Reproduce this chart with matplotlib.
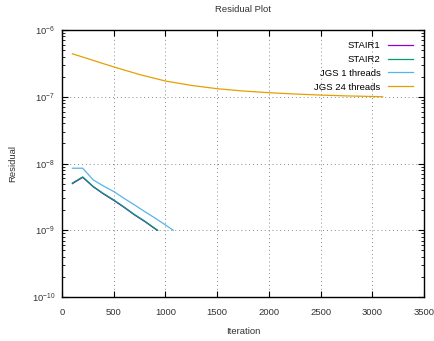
import matplotlib
matplotlib.use("Agg")
import matplotlib.pyplot as plt
from matplotlib.ticker import LogLocator, NullFormatter, FixedLocator

plt.rcParams['font.family'] = ['Liberation Sans', 'DejaVu Sans']

# STAIR1 / STAIR2 (nearly identical)
stair1_it = [100, 200, 300, 400, 500, 600, 700, 800, 900, 920]
stair1_res = [5.0e-9, 6.2e-9, 4.5e-9, 3.5e-9, 2.8e-9, 2.2e-9, 1.7e-9, 1.35e-9, 1.05e-9, 1.0e-9]
stair2_it = [100, 200, 300, 400, 500, 600, 700, 800, 900, 925]
stair2_res = [5.1e-9, 6.3e-9, 4.55e-9, 3.55e-9, 2.85e-9, 2.23e-9, 1.72e-9, 1.37e-9, 1.06e-9, 1.0e-9]

# JGS 1 thread
jgs1_it = [100, 200, 300, 400, 500, 600, 700, 800, 900, 1000, 1075]
jgs1_res = [8.5e-9, 8.5e-9, 5.7e-9, 4.6e-9, 3.8e-9, 3.0e-9, 2.4e-9, 1.9e-9, 1.52e-9, 1.2e-9, 1.0e-9]

# JGS 24 threads
jgs24_it = [100, 250, 375, 500, 750, 1000, 1250, 1500, 1750, 2000, 2250, 2500, 2750, 3000, 3100]
jgs24_res = [4.4e-7, 3.72e-7, 3.22e-7, 2.8e-7, 2.15e-7, 1.72e-7, 1.48e-7, 1.32e-7, 1.22e-7,
             1.15e-7, 1.1e-7, 1.06e-7, 1.03e-7, 1.01e-7, 1.0e-7]

x_ticks = [0, 500, 1000, 1500, 2000, 2500, 3000, 3500]
y_ticks = [1e-10, 1e-9, 1e-8, 1e-7, 1e-6]

fig = plt.figure(figsize=(4.34, 3.41), dpi=100)
ax = fig.add_axes([0.143, 0.129, 0.834, 0.783])

ax.plot(stair1_it, stair1_res, color='#9400d3', lw=0.9, label='STAIR1')
ax.plot(stair2_it, stair2_res, color='#009e73', lw=0.9, label='STAIR2')
ax.plot(jgs1_it, jgs1_res, color='#56b4e9', lw=0.9, label='JGS 1 threads')
ax.plot(jgs24_it, jgs24_res, color='#e69f00', lw=0.9, label='JGS 24 threads')

ax.set_yscale('log')
ax.set_xlim(0, 3500)
ax.set_ylim(1e-10, 1e-6)
ax.xaxis.set_major_locator(FixedLocator(x_ticks))
ax.yaxis.set_major_locator(FixedLocator(y_ticks))
ax.yaxis.set_minor_locator(LogLocator(base=10, subs=range(2, 10), numticks=10))
ax.yaxis.set_minor_formatter(NullFormatter())

ax.tick_params(which='both', direction='in', top=True, right=True,
               labelsize=6.8, colors='black', labelcolor='#333333')
ax.tick_params(which='major', length=4, width=0.8)
ax.tick_params(which='minor', length=2, width=0.6)
ax.tick_params(axis='x', pad=8)
ax.tick_params(axis='y', pad=5)

for s in ax.spines.values():
    s.set_linewidth(1.0)

ax.grid(True, which='major', linestyle=(0, (1, 3)), color='#888888', lw=0.7)

ax.set_title('Residual Plot', fontsize=6.8, color='#333333', pad=13)
ax.set_xlabel('Iteration', fontsize=6.8, color='#333333', labelpad=7)
ax.set_ylabel('Residual', fontsize=6.8, color='#333333', labelpad=10)

ax.legend(loc='upper right', frameon=False, fontsize=6.8, markerfirst=False,
          handlelength=2.6, handletextpad=0.8, labelspacing=0.5,
          borderaxespad=0.8)

fig.savefig('out.png', dpi=100)
